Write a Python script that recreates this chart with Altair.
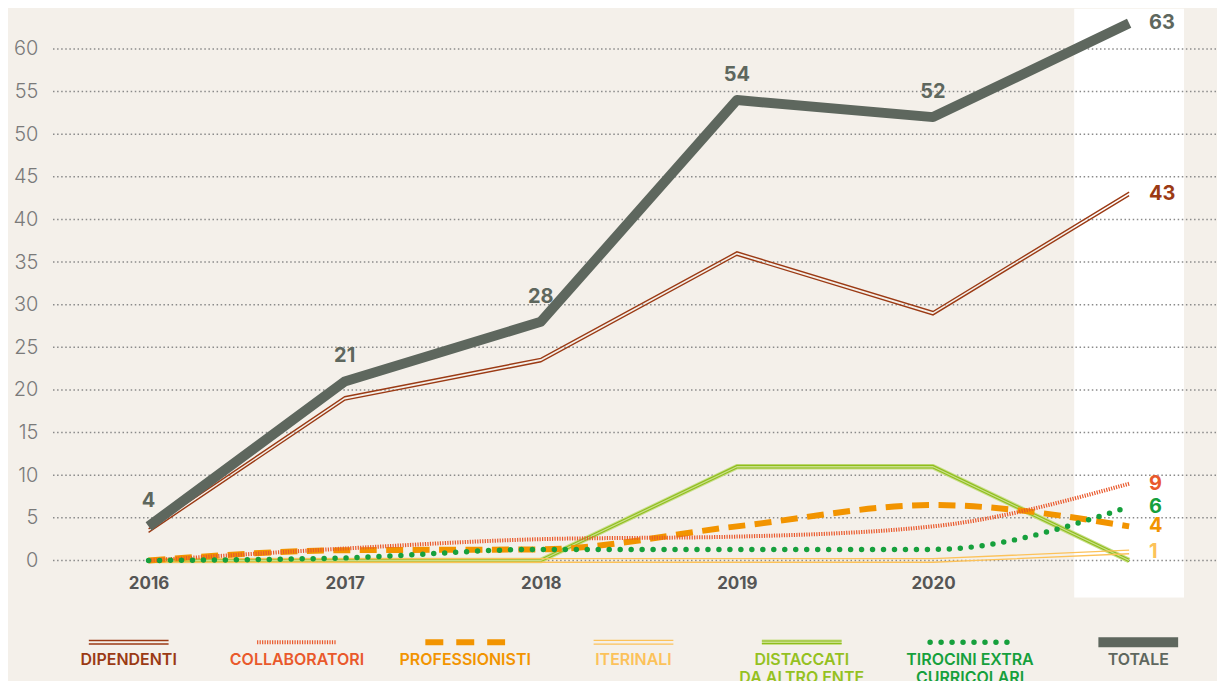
import altair as alt
import pandas as pd

# ---------------- data ----------------
years = [2016, 2017, 2018, 2019, 2020, 2021]
series_names = ["DIPENDENTI", "COLLABORATORI", "PROFESSIONISTI", "ITERINALI",
                "DISTACCATI", "TIROCINI", "TOTALE"]
legend_labels = ["DIPENDENTI", "COLLABORATORI", "PROFESSIONISTI", "ITERINALI",
                 "DISTACCATI\nDA ALTRO ENTE", "TIROCINI EXTRA\nCURRICOLARI", "TOTALE"]

dipendenti = [3.5, 19, 23.5, 36, 29, 43]
collaboratori = [0, 1.4, 2.5, 2.8, 4, 9]
professionisti = [0, 1.2, 1.3, 4, 6.5, 4]
iterinali = [0, 0, 0, 0, 0, 1]
distaccati = [0, 0, 0, 11, 11, 0]
tirocini = [0, 0.3, 1.3, 1.3, 1.3, 6.3]
totale = [4, 21, 28, 54, 52, 63]

y_ticks = [0, 5, 10, 15, 20, 25, 30, 35, 40, 45, 50, 55, 60]

values = {
    "DIPENDENTI": dipendenti, "COLLABORATORI": collaboratori,
    "PROFESSIONISTI": professionisti, "ITERINALI": iterinali,
    "DISTACCATI": distaccati, "TIROCINI": tirocini, "TOTALE": totale,
}

rows = []
for s in series_names:
    for a, v in zip(years, values[s]):
        rows.append({"serie": s, "anno": a, "valore": v})
df = pd.DataFrame(rows)

# ---------------- style ----------------
FONT = "Inter"
BG = "#f4f0ea"
BROWN = "#9b3a14"
COLL = "#e9592c"
PROF = "#f29400"
ITER = "#fcc25a"
DIST_L = "#c9df8a"
DIST_D = "#8fbd1c"
DIST_T = "#95c11f"
GREEN = "#16a03c"
GREY = "#5e675e"

text_colors = [BROWN, COLL, PROF, ITER, DIST_T, GREEN, GREY]

STYLES = {
    "DIPENDENTI": [dict(color=BROWN, strokeWidth=1.4, yOffset=-1.7),
                   dict(color=BROWN, strokeWidth=1.4, yOffset=1.7)],
    "COLLABORATORI": [dict(color=COLL, strokeWidth=4, strokeDash=[1.2, 1.3])],
    "PROFESSIONISTI": [dict(color=PROF, strokeWidth=6, strokeDash=[17, 9.5])],
    "ITERINALI": [dict(color=ITER, strokeWidth=1.3, yOffset=-1.8),
                  dict(color=ITER, strokeWidth=1.3, yOffset=1.8)],
    "DISTACCATI": [dict(color=DIST_L, strokeWidth=5.5),
                   dict(color=DIST_D, strokeWidth=1.1, yOffset=-1.3),
                   dict(color=DIST_D, strokeWidth=1.1, yOffset=1.3)],
    "TIROCINI": [dict(color=GREEN, strokeWidth=5.5, strokeDash=[0, 11], strokeCap="round")],
    "TOTALE": [dict(color=GREY, strokeWidth=10, strokeJoin="round")],
}
LEGEND_OVERRIDE = {"PROFESSIONISTI": {"strokeDash": [18, 13]}}
INTERP = {"COLLABORATORI": "monotone", "PROFESSIONISTI": "monotone", "TIROCINI": "monotone"}
DRAW_ORDER = ["DISTACCATI", "ITERINALI", "PROFESSIONISTI", "COLLABORATORI",
              "TIROCINI", "DIPENDENTI", "TOTALE"]

W, H = 1167, 553

x_scale = alt.Scale(domain=[2015.507, 2021.443], nice=False, zero=False)
y_scale = alt.Scale(domain=[0, 64.7], nice=False)

x_axis = alt.Axis(values=years, format="d", title=None, grid=False, domain=False,
                  ticks=False, tickSize=0, labelPadding=15, labelFont=FONT,
                  labelFontSize=17,
                  labelFontWeight={"expr": "datum.value == 2021 ? 800 : 700"},
                  labelColor={"expr": "datum.value == 2021 ? '#3f3f3f' : '#555555'"})
y_axis = alt.Axis(values=y_ticks, title=None, grid=False, domain=False, ticks=False,
                  tickSize=0, labelPadding=14, labelFont=FONT, labelFontSize=20,
                  labelFontWeight=300, labelColor="#7a7a7a")

x_enc = alt.X("anno:Q", scale=x_scale, axis=x_axis)
y_enc = alt.Y("valore:Q", scale=y_scale, axis=y_axis)


def series_layers(data, serie, x, y, interp="linear", override=None):
    out = []
    for st in STYLES[serie]:
        st = dict(st)
        if override:
            st.update(override)
        out.append(
            alt.Chart(data)
            .transform_filter(alt.datum.serie == serie)
            .mark_line(interpolate=interp, **st)
            .encode(x=x, y=y)
        )
    return out


# highlight band for the last year
band = (
    alt.Chart(pd.DataFrame({"anno": [years[-1]]}))
    .transform_calculate(x1="datum.anno - 0.28", x2="datum.anno + 0.28")
    .mark_rect(color="white")
    .encode(x=alt.X("x1:Q", scale=x_scale, axis=x_axis), x2="x2:Q",
            y=alt.value(0), y2=alt.value(590))
)

grid = (
    alt.Chart(pd.DataFrame({"valore": y_ticks}))
    .mark_rule(color="#8a8a8a", strokeWidth=1.5, strokeDash=[1.5, 2.6])
    .encode(y=y_enc)
)

lines = []
for s in DRAW_ORDER:
    lines += series_layers(df, s, x_enc, y_enc, INTERP.get(s, "linear"))

color_scale = alt.Scale(domain=series_names, range=text_colors)

tot_labels = (
    alt.Chart(df)
    .transform_filter((alt.datum.serie == "TOTALE") & (alt.datum.anno < years[-1]))
    .mark_text(dy=-25, fontSize=20, fontWeight="bold", font=FONT, color=GREY)
    .encode(x=x_enc, y=y_enc, text=alt.Text("valore:Q", format="d"))
)
end_labels = (
    alt.Chart(df)
    .transform_filter((alt.datum.anno == years[-1]) & (alt.datum.serie != "DISTACCATI"))
    .mark_text(align="left", baseline="middle", dx=20, fontSize=20,
               fontWeight="bold", font=FONT)
    .encode(x=x_enc, y=y_enc, text=alt.Text("valore:Q", format=".0f"),
            color=alt.Color("serie:N", scale=color_scale, legend=None))
)

main = alt.layer(band, grid, *lines, tot_labels, end_labels).properties(width=W, height=H)

# ---------------- custom legend ----------------
legend_df = pd.DataFrame({"serie": series_names, "label": legend_labels,
                          "slot": list(range(len(series_names)))})
half = 0.237
sw_rows = []
for s, i in zip(series_names, range(len(series_names))):
    sw_rows.append({"serie": s, "slot": i - half})
    sw_rows.append({"serie": s, "slot": i + half})
sw_df = pd.DataFrame(sw_rows)

lx_scale = alt.Scale(domain=[-0.4565, 6.462], nice=False, zero=False)
lx = alt.X("slot:Q", scale=lx_scale, axis=None)

sw_layers = []
for s in series_names:
    sw_layers += series_layers(sw_df, s, lx, alt.value(14),
                               override=LEGEND_OVERRIDE.get(s))

legend_text = (
    alt.Chart(legend_df)
    .mark_text(baseline="top", lineBreak="\n", fontSize=16, fontWeight=600,
               font=FONT, lineHeight=18)
    .encode(x=lx, y=alt.value(24), text="label:N",
            color=alt.Color("serie:N", scale=color_scale, legend=None))
)

legend = alt.layer(*sw_layers, legend_text).properties(width=W, height=44)

chart = (
    alt.vconcat(main, legend, spacing=31)
    .resolve_scale(x="independent", color="shared")
    .properties(padding={"left": 5, "top": 0, "right": 0, "bottom": 0})
    .configure(background=BG)
    .configure_view(stroke=None)
)

chart.save("out.html", embed_options={"renderer": "svg", "actions": False})
